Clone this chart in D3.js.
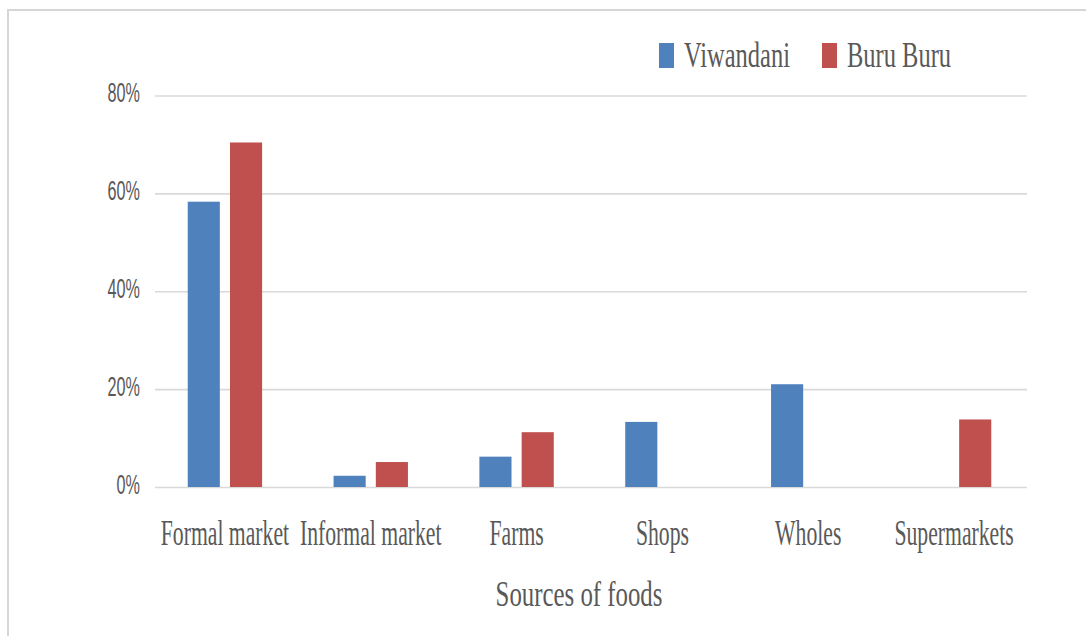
<!DOCTYPE html>
<meta charset="utf-8">
<style>
body { margin: 0; background: #fff; }
.grid line { stroke: #d9d9d9; stroke-width: 1.6px; }
.grid .domain { display: none; }
.ylab text { font: 27px "Liberation Sans", Arial, sans-serif; fill: #595959; }
.xlab text { font: 35px "Liberation Serif", "Times New Roman", serif; fill: #595959; }
.legend text { font: 35px "Liberation Serif", "Times New Roman", serif; fill: #595959; }
.title { font: 36px "Liberation Serif", "Times New Roman", serif; fill: #595959; }
</style>
<svg width="1086" height="636"></svg>
<script src="https://cdn.jsdelivr.net/npm/d3@7/dist/d3.min.js"></script>
<script>

var categories = ["Formal market", "Informal market", "Farms", "Shops", "Wholes", "Supermarkets"];
var series = ["Viwandani", "Buru Buru"];
var viwandani = [0.583, 0.023, 0.062, 0.133, 0.210, 0];
var buruburu = [0.704, 0.051, 0.112, 0, 0, 0.138];
var yTicks = [0, 0.2, 0.4, 0.6, 0.8];
var colors = ["#4f81bd", "#c0504d"];

var svg = d3.select("svg");

// light frame, top and left edges only
svg.append("path")
    .attr("d", "M8,636V10H1086")
    .attr("fill", "none")
    .attr("stroke", "#d6d6d6")
    .attr("stroke-width", 2);

var plotL = 152, plotR = 1027, plotT = 95.5, plotB = 487;

var x0 = d3.scaleBand().domain(categories).range([plotL, plotR])
    .paddingInner(0.49).paddingOuter(0.245);
var x1 = d3.scaleBand().domain(series).range([0, x0.bandwidth()]).paddingInner(0.24);
var y = d3.scaleLinear().domain([0, 0.8]).range([plotB, plotT]);
var color = d3.scaleOrdinal().domain(series).range(colors);

// gridlines
svg.append("g")
    .attr("class", "grid")
    .attr("transform", "translate(" + plotR + ",0)")
    .call(d3.axisLeft(y).tickValues(yTicks).tickSize(plotR - 155).tickFormat(""));

// y labels (squeezed like the original)
svg.append("g").attr("class", "ylab")
  .selectAll("text")
  .data(yTicks)
  .enter().append("text")
    .attr("text-anchor", "end")
    .attr("transform", function(d) { return "translate(140," + (y(d) + 6.5) + ") scale(0.6,1)"; })
    .text(d3.format(".0%"));

var rows = categories.map(function(c, i) {
  return { cat: c, vals: [viwandani[i], buruburu[i]] };
});

var groups = svg.append("g").selectAll("g")
    .data(rows)
    .enter().append("g")
    .attr("transform", function(d) { return "translate(" + x0(d.cat) + ",0)"; });

groups.selectAll("rect")
    .data(function(d) { return d.vals.map(function(v, j) { return { s: series[j], v: v }; }); })
    .enter().append("rect")
      .filter(function(d) { return d.v > 0; })
      .attr("x", function(d) { return x1(d.s); })
      .attr("width", x1.bandwidth())
      .attr("y", function(d) { return y(d.v); })
      .attr("height", function(d) { return plotB - y(d.v); })
      .attr("fill", function(d) { return color(d.s); });

// category labels
svg.append("g").attr("class", "xlab")
  .selectAll("text")
  .data(categories)
  .enter().append("text")
    .attr("text-anchor", "middle")
    .attr("transform", function(d) { return "translate(" + (x0(d) + x0.bandwidth() / 2) + ",545) scale(0.62,1)"; })
    .text(function(d) { return d; });

svg.append("text")
    .attr("class", "title")
    .attr("text-anchor", "middle")
    .attr("transform", "translate(579,606) scale(0.69,1)")
    .text("Sources of foods");

// legend
var legX = [659, 822];
var legend = svg.append("g").attr("class", "legend")
  .selectAll("g")
  .data(series)
  .enter().append("g")
    .attr("transform", function(d, i) { return "translate(" + legX[i] + ",0)"; });

legend.append("rect")
    .attr("y", 43)
    .attr("width", 15)
    .attr("height", 25)
    .attr("fill", function(d) { return color(d); });

legend.append("text")
    .attr("transform", "translate(25,67) scale(0.7,1)")
    .text(function(d) { return d; });

</script>
